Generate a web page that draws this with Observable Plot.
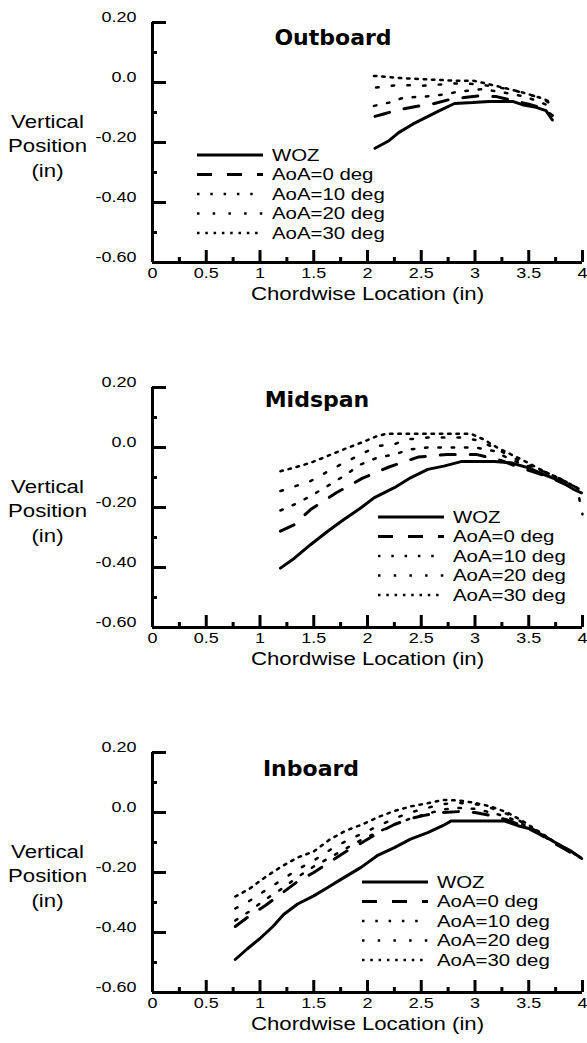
<!DOCTYPE html>
<html><head><meta charset="utf-8">
<script src="https://cdn.jsdelivr.net/npm/d3@7"></script>
<script src="https://cdn.jsdelivr.net/npm/@observablehq/plot@0.6"></script>
<style>
body{margin:0;background:#fff;}
#chart svg{display:block;}
</style></head><body><div id="chart"></div>
<script>
// ---------- labels & ticks ----------
const panels = ["Outboard", "Midspan", "Inboard"];
const seriesNames = ["WOZ", "AoA=0 deg", "AoA=10 deg", "AoA=20 deg", "AoA=30 deg"];
const xTicks = [0, 0.5, 1, 1.5, 2, 2.5, 3, 3.5, 4];
const xTickLabels = ["0", "0.5", "1", "1.5", "2", "2.5", "3", "3.5", "4"];
const xMinorTicks = [0.25, 0.75, 1.25, 1.75, 2.25, 2.75, 3.25, 3.75];
const yTicks = [0.2, 0, -0.2, -0.4, -0.6];
const yTickLabels = ["0.20", "0.0", "-0.20", "-0.40", "-0.60"];
const yMinorTicks = [0.1, -0.1, -0.3, -0.5];
const xTitle = "Chordwise Location (in)";
const yTitle = "Vertical\nPosition\n(in)";

// ---------- Outboard ----------
const outWOZx = [2.07,2.2,2.29,2.42,2.54,2.67,2.81,2.98,3.13,3.35,3.44,3.57,3.66,3.72];
const outWOZy = [-0.219,-0.194,-0.167,-0.139,-0.117,-0.094,-0.07,-0.067,-0.063,-0.063,-0.074,-0.083,-0.094,-0.125];
const outA0x = [2.07,2.15,2.3,2.45,2.6,2.75,2.9,3.05,3.2,3.35,3.5,3.62,3.72];
const outA0y = [-0.113,-0.105,-0.09,-0.08,-0.072,-0.058,-0.05,-0.044,-0.047,-0.06,-0.072,-0.085,-0.11];
const outA10x = [2.06,2.2,2.34,2.48,2.6,2.73,2.85,2.98,3.07,3.24,3.44,3.57,3.7];
const outA10y = [-0.078,-0.067,-0.05,-0.048,-0.045,-0.039,-0.03,-0.026,-0.022,-0.032,-0.045,-0.06,-0.08];
const outA20x = [2.08,2.29,2.51,2.82,3.0,3.13,3.26,3.38,3.5,3.63,3.71];
const outA20y = [-0.017,-0.008,-0.011,-0.003,-0.005,-0.011,-0.019,-0.028,-0.039,-0.055,-0.072];
const outA30x = [2.06,2.3,2.51,2.82,2.98,3.1,3.26,3.44,3.6,3.72];
const outA30y = [0.022,0.015,0.011,0.006,0.006,-0.003,-0.017,-0.033,-0.05,-0.067];

// ---------- Midspan ----------
const midWOZx = [1.19,1.32,1.47,1.63,1.78,1.94,2.06,2.25,2.4,2.56,2.71,2.87,3.18,3.33,3.49,3.64,3.8,3.92,3.99];
const midWOZy = [-0.402,-0.369,-0.324,-0.279,-0.24,-0.201,-0.168,-0.134,-0.101,-0.073,-0.062,-0.047,-0.047,-0.051,-0.067,-0.09,-0.112,-0.14,-0.151];
const midA0x = [1.19,1.32,1.47,1.71,1.95,2.2,2.47,2.74,3.01,3.24,3.4,3.55,3.7,3.85,3.99];
const midA0y = [-0.279,-0.257,-0.207,-0.151,-0.103,-0.065,-0.032,-0.023,-0.023,-0.043,-0.065,-0.082,-0.1,-0.125,-0.15];
const midA10x = [1.19,1.32,1.47,1.63,1.78,1.94,2.09,2.25,2.4,2.56,2.75,3.01,3.18,3.33,3.48,3.64,3.8,3.95,4.0];
const midA10y = [-0.21,-0.19,-0.162,-0.128,-0.095,-0.056,-0.034,-0.023,-0.006,0.0,0.0,0.0,-0.012,-0.04,-0.06,-0.08,-0.105,-0.135,-0.17];
const midA20x = [1.19,1.32,1.47,1.63,1.78,1.94,2.09,2.25,2.37,2.56,2.87,3.01,3.18,3.33,3.48,3.64,3.8,3.95,4.0];
const midA20y = [-0.145,-0.13,-0.112,-0.08,-0.051,-0.023,0.005,0.011,0.027,0.033,0.033,0.025,0.0,-0.03,-0.055,-0.08,-0.105,-0.135,-0.223];
const midA30x = [1.19,1.32,1.47,1.63,1.78,1.94,2.09,2.18,2.56,2.96,3.08,3.18,3.3,3.46,3.64,3.8,3.95,4.0];
const midA30y = [-0.079,-0.067,-0.051,-0.028,-0.006,0.016,0.038,0.046,0.046,0.046,0.027,0.005,-0.017,-0.045,-0.079,-0.106,-0.134,-0.145];

// ---------- Inboard ----------
const inWOZx = [0.77,0.88,1.0,1.12,1.22,1.35,1.5,1.63,1.78,1.94,2.09,2.25,2.4,2.56,2.7,2.78,3.0,3.27,3.4,3.52,3.64,3.77,3.89,3.98];
const inWOZy = [-0.49,-0.455,-0.42,-0.38,-0.34,-0.305,-0.278,-0.25,-0.217,-0.183,-0.144,-0.117,-0.089,-0.067,-0.044,-0.028,-0.028,-0.028,-0.044,-0.055,-0.078,-0.105,-0.128,-0.15];
const inAx = [0.77,0.9,1.05,1.2,1.35,1.5,1.65,1.8,1.95,2.1,2.25,2.4,2.55,2.7,2.85,3.0,3.15,3.3,3.45,3.6,3.75,3.9,4.0];
const inA0y = [-0.38,-0.345,-0.31,-0.27,-0.23,-0.2,-0.165,-0.13,-0.1,-0.068,-0.04,-0.02,-0.008,0.0,0.003,0.0,-0.01,-0.025,-0.045,-0.072,-0.105,-0.135,-0.155];
const inA10y = [-0.36,-0.33,-0.29,-0.255,-0.215,-0.18,-0.15,-0.12,-0.09,-0.065,-0.04,-0.02,-0.005,0.01,0.015,0.012,0.0,-0.015,-0.04,-0.07,-0.105,-0.135,-0.155];
const inA20y = [-0.32,-0.295,-0.26,-0.225,-0.19,-0.16,-0.125,-0.095,-0.07,-0.045,-0.02,0.0,0.015,0.028,0.032,0.028,0.015,-0.005,-0.035,-0.068,-0.102,-0.132,-0.155];
const inA30y = [-0.28,-0.255,-0.215,-0.18,-0.15,-0.13,-0.09,-0.06,-0.04,-0.015,0.005,0.02,0.03,0.042,0.04,0.032,0.02,0.0,-0.03,-0.065,-0.1,-0.13,-0.155];

// ---------- assemble tables ----------
const panelSeries = [
  [[outWOZx,outWOZy],[outA0x,outA0y],[outA10x,outA10y],[outA20x,outA20y],[outA30x,outA30y]],
  [[midWOZx,midWOZy],[midA0x,midA0y],[midA10x,midA10y],[midA20x,midA20y],[midA30x,midA30y]],
  [[inWOZx,inWOZy],[inAx,inA0y],[inAx,inA10y],[inAx,inA20y],[inAx,inA30y]]
];

// ---------- styles & layout ----------
const lineStyle = [
  {strokeWidth: 3, dash: null},
  {strokeWidth: 3, dash: "15,15"},
  {strokeWidth: 2.5, dash: "2.5,10.8"},
  {strokeWidth: 2.5, dash: "2.5,13.2"},
  {strokeWidth: 2.5, dash: "2.5,5.8"}
];
const layout = [
  {height: 365, marginBottom: 103, titleDx: 181, titleDy: 15, legX: 197, legY: 155},
  {height: 365, marginBottom: 103, titleDx: 165, titleDy: 12, legX: 378, legY: 152},
  {height: 313, marginBottom: 51,  titleDx: 159, titleDy: 16, legX: 362, legY: 152}
];
const W = 587, ML = 152, MR = 5, MT = 22;
const SX = 1.2; // horizontal stretch of the sans-serif labels, as in the reference
const font = "'Liberation Sans', Arial, Helvetica, sans-serif";

function stretchText(node) {
  const tr = node.getAttribute("transform");
  if (tr) {
    node.setAttribute("transform", tr + ` scale(${SX},1)`);
  } else {
    const x = parseFloat(node.getAttribute("x") || 0);
    node.setAttribute("x", 0);
    node.setAttribute("transform", `translate(${x},0) scale(${SX},1)`);
  }
}

const root = document.getElementById("chart");
panels.forEach((name, p) => {
  const L = layout[p];
  const plotH = L.height - MT - L.marginBottom;
  const plotW = W - ML - MR;
  const lineMarks = seriesNames.map((s, i) => {
    const [xs, ys] = panelSeries[p][i];
    const rows = xs.map((x, j) => ({series: s, x, y: ys[j]}));
    return Plot.line(rows, {x: "x", y: "y", stroke: "black", strokeWidth: lineStyle[i].strokeWidth,
      strokeDasharray: lineStyle[i].dash || undefined, strokeLinejoin: "miter"});
  });
  const chart = Plot.plot({
    width: W, height: L.height,
    marginLeft: ML, marginRight: MR, marginTop: MT, marginBottom: L.marginBottom,
    style: {fontFamily: font, fontSize: "15px", background: "white", color: "black"},
    x: {domain: [0, 4], axis: null},
    y: {domain: [-0.6, 0.2], axis: null},
    marks: [
      ...lineMarks,
      Plot.ruleX([0], {stroke: "black", strokeWidth: 3}),
      Plot.ruleY([-0.6], {stroke: "black", strokeWidth: 3}),
      Plot.tickX(xTicks, {x: d => d, stroke: "black", strokeWidth: 3, insetTop: plotH - 12}),
      Plot.tickX(xMinorTicks, {x: d => d, stroke: "black", strokeWidth: 3, insetTop: plotH - 5}),
      Plot.tickY(yTicks, {y: d => d, stroke: "black", strokeWidth: 3, insetRight: plotW - 14}),
      Plot.tickY(yMinorTicks, {y: d => d, stroke: "black", strokeWidth: 3, insetRight: plotW - 5}),
      Plot.text(xTicks, {x: d => d, text: (d, i) => xTickLabels[i], frameAnchor: "bottom",
        lineAnchor: "top", dy: 5, fontSize: 15, fill: "black"}),
      Plot.text(yTicks, {y: d => d, text: (d, i) => yTickLabels[i], frameAnchor: "left",
        textAnchor: "end", dx: -16, dy: -5, fontSize: 15, fill: "black"}),
      Plot.text([xTitle], {text: d => d, frameAnchor: "bottom", dy: 37, fontSize: 18.5, fill: "black"}),
      Plot.text([yTitle], {text: d => d, frameAnchor: "left", textAnchor: "middle", dx: -105, dy: 2,
        fontSize: 18.5, lineHeight: 1.35, fill: "black"})
    ]
  });
  const svg = d3.select(chart);
  // stretch the sans-serif labels horizontally
  svg.selectAll("text").each(function() { stretchText(this); });
  // panel title (unstretched bold face)
  svg.append("text").attr("x", ML + L.titleDx).attr("y", MT + L.titleDy).attr("dy", "0.36em")
    .attr("text-anchor", "middle").attr("font-family", "'DejaVu Sans', Verdana, sans-serif")
    .attr("font-weight", "bold").attr("font-size", 22).attr("fill", "black").text(name);
  // legend
  const g = svg.append("g").attr("class", "legend").attr("text-anchor", "start");
  seriesNames.forEach((s, i) => {
    const y = L.legY + i * 19.5;
    g.append("line").attr("x1", L.legX).attr("x2", L.legX + 66).attr("y1", y).attr("y2", y)
      .attr("stroke", "black").attr("stroke-width", lineStyle[i].strokeWidth)
      .attr("stroke-dasharray", lineStyle[i].dash);
    g.append("text").attr("dy", "0.35em")
      .attr("transform", `translate(${L.legX + 75},${y}) scale(${SX},1)`)
      .attr("text-anchor", "start")
      .attr("font-family", font).attr("font-size", 17).attr("fill", "black").text(s);
  });
  root.appendChild(chart);
});
</script>
</body></html>
